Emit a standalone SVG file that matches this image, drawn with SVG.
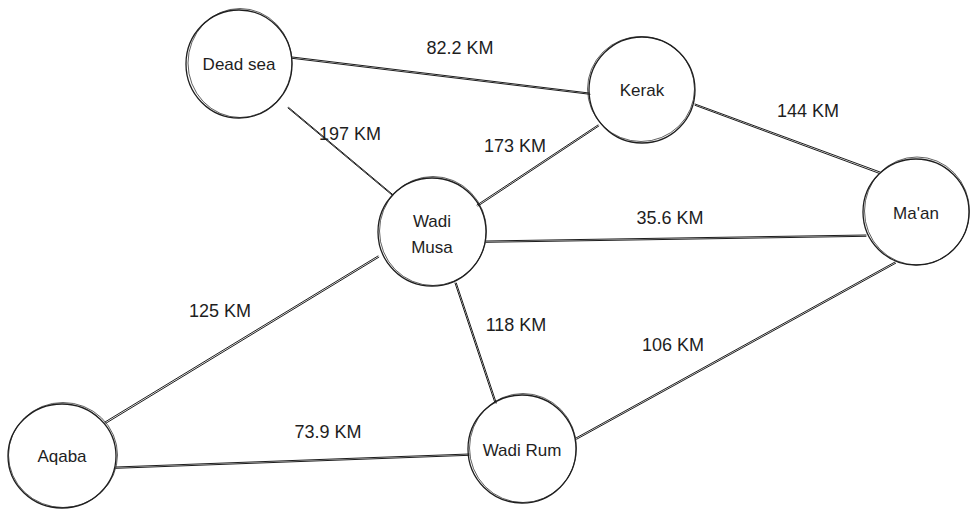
<svg xmlns="http://www.w3.org/2000/svg" width="978" height="519" viewBox="0 0 978 519">
  <style>
    .bg { fill: #ffffff; }
    .ring { fill: none; stroke: #1e1e1e; stroke-width: 1.3; }
    .ring2 { fill: none; stroke: #1e1e1e; stroke-width: 0.7; }
    .edge { fill: none; stroke: #1e1e1e; stroke-width: 1; stroke-linecap: round; }
    .lbl { font-family: "Liberation Sans", "DejaVu Sans", sans-serif; font-size: 18px; fill: #1e1e1e; text-anchor: middle; }
    .name { font-family: "Liberation Sans", "DejaVu Sans", sans-serif; font-size: 17px; fill: #1e1e1e; text-anchor: middle; }
  </style>
  <rect class="bg" x="0" y="0" width="978" height="519"/>

  <!-- road segments, each drawn as a pair of close strokes -->
  <g id="connectors">
    <path class="edge" d="M292 57 L589 93 M292 58.3 L590 94.3"/>
    <path class="edge" d="M288 108 L392 195 M288.6 107.4 L392.8 194.6"/>
    <path class="edge" d="M598 125 L477 205 M598.8 126 L478 206"/>
    <path class="edge" d="M695 104 L880 172 M695 105.3 L879 173.3"/>
    <path class="edge" d="M486 241 L866 235 M486 242.3 L866 236.3"/>
    <path class="edge" d="M378 256 L105 422 M378.8 257.2 L106 423.2"/>
    <path class="edge" d="M455 283 L495 403 M456.3 283 L496.3 403"/>
    <path class="edge" d="M895 262 L576 438 M895.7 263.2 L576.7 439.2"/>
    <path class="edge" d="M116 467 L469 454 M116 468.3 L469 455.3"/>
  </g>

  <g id="edge-labels">
    <text class="lbl" x="460" y="54">82.2 KM</text>
    <text class="lbl" x="350" y="140">197 KM</text>
    <text class="lbl" x="515" y="152">173 KM</text>
    <text class="lbl" x="808" y="117">144 KM</text>
    <text class="lbl" x="670" y="224">35.6 KM</text>
    <text class="lbl" x="220" y="317">125 KM</text>
    <text class="lbl" x="516" y="331">118 KM</text>
    <text class="lbl" x="673" y="351">106 KM</text>
    <text class="lbl" x="328" y="438">73.9 KM</text>
  </g>

  <g id="dead-sea">
    <ellipse class="ring" cx="239" cy="64" rx="53" ry="54"/>
    <ellipse class="ring2" cx="240" cy="63" rx="52" ry="54.5"/>
    <text class="name" x="239" y="70">Dead sea</text>
  </g>

  <g id="kerak">
    <ellipse class="ring" cx="642" cy="90" rx="53" ry="53"/>
    <ellipse class="ring2" cx="641" cy="89" rx="53.5" ry="52.5"/>
    <text class="name" x="642" y="96">Kerak</text>
  </g>

  <g id="wadi-musa">
    <ellipse class="ring" cx="432" cy="232" rx="54" ry="54"/>
    <ellipse class="ring2" cx="433" cy="231" rx="53.5" ry="54.5"/>
    <text class="name" x="432" y="227">Wadi</text>
    <text class="name" x="432" y="253">Musa</text>
  </g>

  <g id="maan">
    <ellipse class="ring" cx="916" cy="212" rx="53" ry="53"/>
    <ellipse class="ring2" cx="917" cy="211" rx="52.5" ry="54"/>
    <text class="name" x="916" y="219">Ma'an</text>
  </g>

  <g id="aqaba">
    <ellipse class="ring" cx="62" cy="456" rx="54" ry="52"/>
    <ellipse class="ring2" cx="63" cy="455" rx="54.5" ry="52.5"/>
    <text class="name" x="62" y="462">Aqaba</text>
  </g>

  <g id="wadi-rum">
    <ellipse class="ring" cx="522" cy="449" rx="54" ry="54"/>
    <ellipse class="ring2" cx="523" cy="448" rx="53.5" ry="54.5"/>
    <text class="name" x="522" y="456">Wadi Rum</text>
  </g>
</svg>
